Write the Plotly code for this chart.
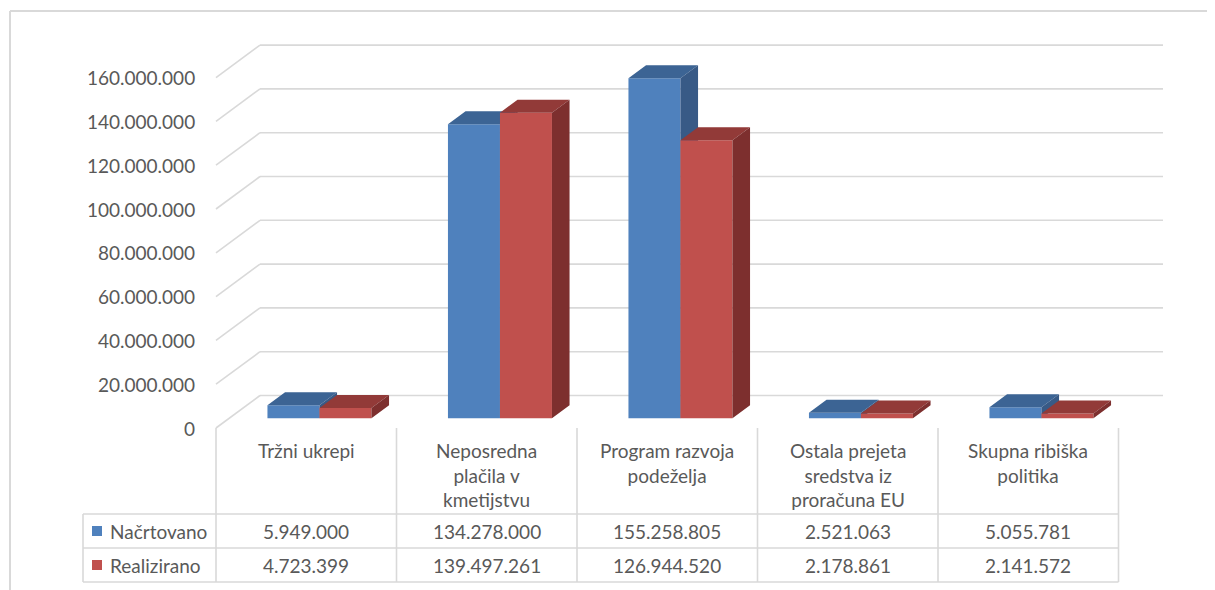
import plotly.graph_objects as go

# ---------------- data ----------------
categories = [
    "Tržni ukrepi",
    "Neposredna plačila v kmetijstvu",
    "Program razvoja podeželja",
    "Ostala prejeta sredstva iz proračuna EU",
    "Skupna ribiška politika",
]
category_labels = [
    "Tržni ukrepi",
    "Neposredna<br>plačila v<br>kmetijstvu",
    "Program razvoja<br>podeželja",
    "Ostala prejeta<br>sredstva iz<br>proračuna EU",
    "Skupna ribiška<br>politika",
]
series_names = ["Načrtovano", "Realizirano"]
nacrtovano = [5949000, 134278000, 155258805, 2521063, 5055781]
realizirano = [4723399, 139497261, 126944520, 2178861, 2141572]
y_tick_values = [0, 20000000, 40000000, 60000000, 80000000,
                 100000000, 120000000, 140000000, 160000000]

# ---------------- style / geometry (page pixel coordinates) ----------------
W, H = 1215, 590
OFF = 8                # default body margin of the html page
K = 2.19e-6            # pixels per unit of value
P0 = 428.0             # pixel row of value 0 on the front plane
DEPTH_DX, DEPTH_DY = 44.0, 32.5
TABLE_X0, COL_W, LEGEND_X0 = 216.0, 180.5, 83.0
BACK_X1 = 1163.0
D_F, D_B = 0.3, 0.7
BAR_W = 52.0
GRID = "#D9D9D9"
TXT = "#595959"
FONT = "Lato"
FS = 19

front_colors = ["#4F81BD", "#C0504D"]
top_colors = ["#3C6494", "#923A38"]
side_colors = ["#385A86", "#7D2F2E"]


def yv(p):            # page pixel row -> y-axis value
    return (P0 - p) / K


def dY(d):            # depth -> y offset in value units
    return DEPTH_DY * d / K


def fy(p):            # page pixel row -> paper y
    return 1 - (p - OFF) / H


def fx(px):           # page pixel column -> paper x
    return (px - OFF) / W


fmt = lambda v: f"{int(round(v)):,}".replace(",", ".")

fig = go.Figure()

series = [nacrtovano, realizirano]
col_centers = [TABLE_X0 + COL_W * (i + 0.5) for i in range(len(categories))]
base = dY(D_F)
ddx = DEPTH_DX * (D_B - D_F)
ddy = dY(D_B - D_F)

for s, vals in enumerate(series):
    xa = "x" if s == 0 else "x2"
    ya = "y" if s == 0 else "y2"
    xcs = [c + DEPTH_DX * D_F + (s - 0.5) * BAR_W for c in col_centers]
    fig.add_trace(go.Bar(
        x=xcs, y=vals, base=[base] * len(vals), width=BAR_W,
        marker=dict(color=front_colors[s], line=dict(width=0)),
        name=series_names[s], showlegend=False, xaxis=xa, yaxis=ya,
        hoverinfo="skip"))
    tx, ty, sx, sy = [], [], [], []
    for xc, v in zip(xcs, vals):
        xl, xr = xc - BAR_W / 2, xc + BAR_W / 2
        top = base + v
        tx += [xl, xr, xr + ddx, xl + ddx, xl, None]
        ty += [top, top, top + ddy, top + ddy, top, None]
        sx += [xr, xr, xr + ddx, xr + ddx, xr, None]
        sy += [base, top, top + ddy, base + ddy, base, None]
    fig.add_trace(go.Scatter(x=tx, y=ty, mode="lines", fill="toself",
                             fillcolor=top_colors[s], line=dict(width=0),
                             showlegend=False, hoverinfo="skip",
                             xaxis=xa, yaxis=ya))
    fig.add_trace(go.Scatter(x=sx, y=sy, mode="lines", fill="toself",
                             fillcolor=side_colors[s], line=dict(width=0),
                             showlegend=False, hoverinfo="skip",
                             xaxis=xa, yaxis=ya))

shapes = []
# back wall gridlines + left wall diagonals
for v in y_tick_values:
    shapes.append(dict(type="line", xref="x", yref="y", layer="below",
                       x0=TABLE_X0 + DEPTH_DX, x1=BACK_X1,
                       y0=v + dY(1), y1=v + dY(1),
                       line=dict(color=GRID, width=1.6)))
    shapes.append(dict(type="line", xref="x", yref="y", layer="below",
                       x0=TABLE_X0, x1=TABLE_X0 + DEPTH_DX,
                       y0=v, y1=v + dY(1),
                       line=dict(color=GRID, width=1.6)))

# data table lines
table_right = TABLE_X0 + COL_W * len(categories)
for p in [514, 548, 582]:
    shapes.append(dict(type="line", xref="x", yref="paper",
                       x0=LEGEND_X0, x1=table_right, y0=fy(p), y1=fy(p),
                       line=dict(color=GRID, width=1.6)))
shapes.append(dict(type="line", xref="x", yref="paper",
                   x0=LEGEND_X0, x1=LEGEND_X0, y0=fy(514), y1=fy(582),
                   line=dict(color=GRID, width=1.6)))
for i in range(len(categories) + 1):
    x = TABLE_X0 + COL_W * i
    shapes.append(dict(type="line", xref="x", yref="paper",
                       x0=x, x1=x, y0=fy(428), y1=fy(582),
                       line=dict(color=GRID, width=1.6)))
# legend keys
for s, p in enumerate([531, 565]):
    shapes.append(dict(type="rect", xref="x", yref="paper",
                       x0=92, x1=102, y0=fy(p - 5), y1=fy(p + 5),
                       fillcolor=front_colors[s], line=dict(width=0)))
# outer chart border
shapes.append(dict(type="line", xref="paper", yref="paper",
                   x0=fx(10), x1=fx(10), y0=fy(11), y1=0,
                   line=dict(color=GRID, width=2)))
shapes.append(dict(type="line", xref="paper", yref="paper",
                   x0=fx(10), x1=1, y0=fy(11), y1=fy(11),
                   line=dict(color=GRID, width=2)))

annotations = []
font = dict(family=FONT, size=FS, color=TXT)
for v in y_tick_values:
    annotations.append(dict(xref="x", yref="y", x=197, y=v, text=fmt(v),
                            xanchor="right", yanchor="middle",
                            showarrow=False, font=font))
for c, lab in zip(col_centers, category_labels):
    annotations.append(dict(xref="x", yref="paper", x=c, y=fy(437),
                            text=lab, xanchor="center", yanchor="top",
                            showarrow=False, font=font, align="center"))
for s, (p, vals) in enumerate(zip([531, 565], series)):
    annotations.append(dict(xref="x", yref="paper", x=108, y=fy(p),
                            text=series_names[s], xanchor="left",
                            yanchor="middle", showarrow=False, font=font))
    for c, v in zip(col_centers, vals):
        annotations.append(dict(xref="x", yref="paper", x=c, y=fy(p),
                                text=fmt(v), xanchor="center",
                                yanchor="middle", showarrow=False, font=font))

ax = dict(visible=False, showgrid=False, zeroline=False, fixedrange=True)
xr_ = [OFF, W + OFF]
yr_ = [yv(H + OFF), yv(OFF)]
fig.update_layout(
    width=W, height=H, autosize=False,
    margin=dict(l=0, r=0, t=0, b=0),
    paper_bgcolor="white", plot_bgcolor="white",
    barmode="overlay", showlegend=False,
    xaxis=dict(range=xr_, **ax),
    yaxis=dict(range=yr_, **ax),
    xaxis2=dict(range=xr_, overlaying="x", **ax),
    yaxis2=dict(range=yr_, overlaying="y", **ax),
    shapes=shapes, annotations=annotations,
    font=font,
)

fig.write_html("out.html")
